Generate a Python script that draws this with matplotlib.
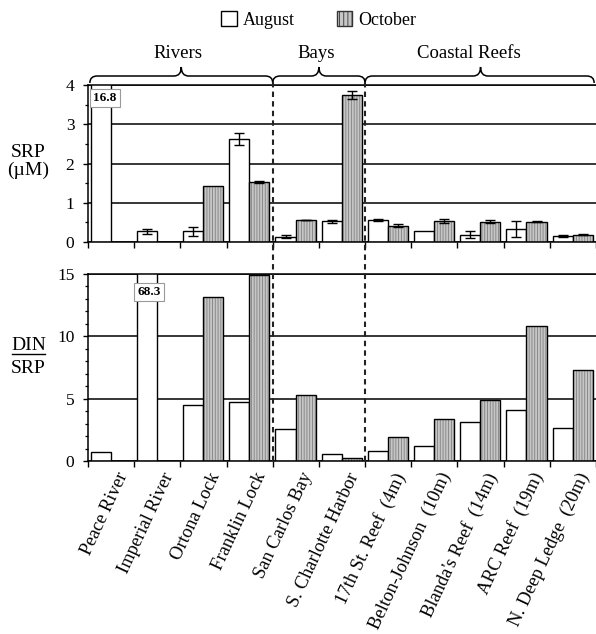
import numpy as np
import matplotlib
matplotlib.use('Agg')
import matplotlib.pyplot as plt
from matplotlib.path import Path
from matplotlib.patches import PathPatch, Patch
from matplotlib.lines import Line2D
import matplotlib.transforms as mtransforms

plt.rcParams['font.family'] = ['Liberation Serif', 'DejaVu Serif']
plt.rcParams['hatch.linewidth'] = 0.6

# ---------------- data ----------------
sites = ['Peace River', 'Imperial River', 'Ortona Lock', 'Franklin Lock',
         'San Carlos Bay', 'S. Charlotte Harbor', '17th St. Reef  (4m)',
         'Belton-Johnson  (10m)', "Blanda's Reef  (14m)", 'ARC Reef  (19m)',
         'N. Deep Ledge  (20m)']
groups = ['Rivers', 'Bays', 'Coastal Reefs']
series = ['August', 'October']
nan = np.nan
srp_aug = [16.8, 0.27, 0.27, 2.63, 0.14, 0.53, 0.56, 0.27, 0.19, 0.34, 0.16]
srp_aug_err = [0, 0.06, 0.11, 0.15, 0.05, 0.04, 0.02, 0, 0.08, 0.2, 0.02]
srp_oct = [nan, nan, 1.43, 1.53, 0.56, 3.75, 0.42, 0.54, 0.52, 0.52, 0.19]
srp_oct_err = [0, 0, 0, 0.02, 0.01, 0.1, 0.05, 0.05, 0.04, 0.01, 0.02]
ratio_aug = [0.75, 68.3, 4.47, 4.74, 2.55, 0.59, 0.8, 1.23, 3.13, 4.13, 2.68]
ratio_oct = [nan, nan, 13.17, 14.9, 5.33, 0.27, 1.93, 3.35, 4.93, 10.85, 7.31]
off_scale = [('16.8', 0, 'srp'), ('68.3', 1, 'ratio')]

# ---------------- figure ----------------
W, H = 596, 634
fig = plt.figure(figsize=(W / 100, H / 100), dpi=100)

def px_ax(x0, y_top, x1, y_bot):
    return [x0 / W, 1 - y_bot / H, (x1 - x0) / W, (y_bot - y_top) / H]

ax1 = fig.add_axes(px_ax(88, 85, 596, 242))
ax2 = fig.add_axes(px_ax(88, 274, 596, 461))

x = np.arange(len(sites))
bw = 0.435
xa = x - 0.2225
xo = x + 0.2125
gray = '#c6c6c6'
hatch_col = '#808080'

def draw(ax, aug, octv, aug_err=None, oct_err=None):
    ax.bar(xa, aug, bw, facecolor='white', edgecolor='k', linewidth=1.0, zorder=2)
    ax.bar(xo, octv, bw, facecolor=gray, edgecolor=hatch_col, hatch='||||||',
           linewidth=0, zorder=2)
    ax.bar(xo, octv, bw, fill=False, edgecolor='k', linewidth=1.0, zorder=2.1)
    for xs, vals, errs in ((xa, aug, aug_err), (xo, octv, oct_err)):
        if errs is None:
            continue
        m = np.array([e > 0 and not np.isnan(v) for v, e in zip(vals, errs)])
        if m.any():
            ax.errorbar(np.array(xs)[m], np.array(vals)[m], yerr=np.array(errs)[m],
                        fmt='none', ecolor='k', elinewidth=1.0, capsize=3.6,
                        capthick=1.0, zorder=3)

draw(ax1, srp_aug, srp_oct, srp_aug_err, srp_oct_err)
draw(ax2, ratio_aug, ratio_oct)

for ax, ymax, major, minor in ((ax1, 4, 1, 0.5), (ax2, 15, 5, 1)):
    ax.set_xlim(-0.5, len(sites) - 0.5)
    ax.set_ylim(0, ymax)
    ax.set_yticks(np.arange(0, ymax + 0.01, major))
    ax.set_yticks(np.arange(0, ymax + 0.01, minor), minor=True)
    ax.grid(axis='y', which='major', color='k', linewidth=1.1)
    ax.set_axisbelow(True)
    ax.spines['right'].set_visible(False)
    for s in ('left', 'bottom', 'top'):
        ax.spines[s].set_linewidth(1.1)
        ax.spines[s].set_zorder(4)
    ax.tick_params(axis='y', which='major', direction='out', length=3.8, width=1.0,
                   pad=6, labelsize=12.5)
    ax.tick_params(axis='y', which='minor', direction='out', length=2.4, width=0.9)
    ax.set_xticks(np.arange(-0.5, len(sites), 1.0), minor=True)
    ax.tick_params(axis='x', which='minor', direction='out', length=4.3, width=1.0)
    ax.tick_params(axis='x', which='major', length=0)

ax1.set_xticks(x + 0.27)
ax1.set_xticklabels([])
ax2.set_xticks(x + 0.27)
ax2.set_xticklabels(sites, rotation=65, ha='right', va='center',
                    rotation_mode='anchor', fontsize=13.3)
ax2.tick_params(axis='x', which='major', pad=9)

# off-scale value labels
lab_pos = {'srp': (ax1, -0.132, 3.67), 'ratio': (ax2, 0.83, 13.55)}
for txt, i, key in off_scale:
    ax, xx, yy = lab_pos[key]
    ax.text(xx, yy, txt, ha='center', va='center', fontsize=9.5, fontweight='bold',
            zorder=5, bbox=dict(boxstyle='square,pad=0.25', fc='white',
                                ec='#9a9a9a', lw=0.8))

# y labels
fig.text(28 / W, 1 - 157 / H, 'SRP', ha='center', va='baseline', fontsize=14)
fig.text(28 / W, 1 - 175 / H, '(µM)', ha='center', va='baseline', fontsize=14)
fig.text(28.5 / W, 1 - 350 / H, 'DIN', ha='center', va='baseline', fontsize=14)
fig.text(28.5 / W, 1 - 373 / H, 'SRP', ha='center', va='baseline', fontsize=14)
fig.add_artist(Line2D([12 / W, 45 / W], [1 - 353.5 / H, 1 - 353.5 / H],
                      color='k', lw=1.0))

# dashed separators
bt = mtransforms.blended_transform_factory(ax1.transData, fig.transFigure)
for xb in (3.5, 5.5):
    fig.add_artist(Line2D([xb, xb], [1 - 82 / H, 1 - 461 / H], transform=bt,
                          color='#222222', lw=1.5, linestyle=(0, (2.6, 2.0)),
                          zorder=6))

# braces
ht = 157.0
def yax(py):
    return 1 + (85 - py) / ht

bt1 = mtransforms.blended_transform_factory(ax1.transData, ax1.transAxes)
def brace(x0, x1, xm, r=0.16):
    yb, yh, yt = yax(83), yax(76), yax(67)
    verts = [(x0, yb), (x0, yh), (x0 + r, yh), (xm - r, yh), (xm, yh), (xm, yt),
             (xm, yh), (xm + r, yh), (x1 - r, yh), (x1, yh), (x1, yb)]
    codes = [Path.MOVETO, Path.CURVE3, Path.CURVE3, Path.LINETO, Path.CURVE3,
             Path.CURVE3, Path.CURVE3, Path.CURVE3, Path.LINETO, Path.CURVE3,
             Path.CURVE3]
    p = PathPatch(Path(verts, codes), transform=bt1, fill=False, edgecolor='k',
                  lw=1.1, clip_on=False)
    ax1.add_patch(p)

brace_spans = [(-0.46, 3.5, 1.52), (3.5, 5.5, 4.5), (5.5, 10.46, 8.0)]
label_x = [1.44, 4.45, 7.75]
for (x0, x1, xm), g, lx in zip(brace_spans, groups, label_x):
    brace(x0, x1, xm)
    ax1.text(lx, yax(58), g, transform=bt1, ha='center', va='baseline',
             fontsize=13.5)

# legend
h_aug = Patch(facecolor='white', edgecolor='k', linewidth=1.0)
h_oct = Patch(facecolor=gray, edgecolor='#333333', hatch='||||', linewidth=1.0)
fig.legend([h_aug, h_oct], series, loc='center', bbox_to_anchor=(0.535, 1 - 20 / H),
           ncol=2, frameon=False, fontsize=13, handlelength=0.85, handleheight=0.85,
           handletextpad=0.35, columnspacing=2.3, borderpad=0)

fig.savefig('out.png', dpi=100)
